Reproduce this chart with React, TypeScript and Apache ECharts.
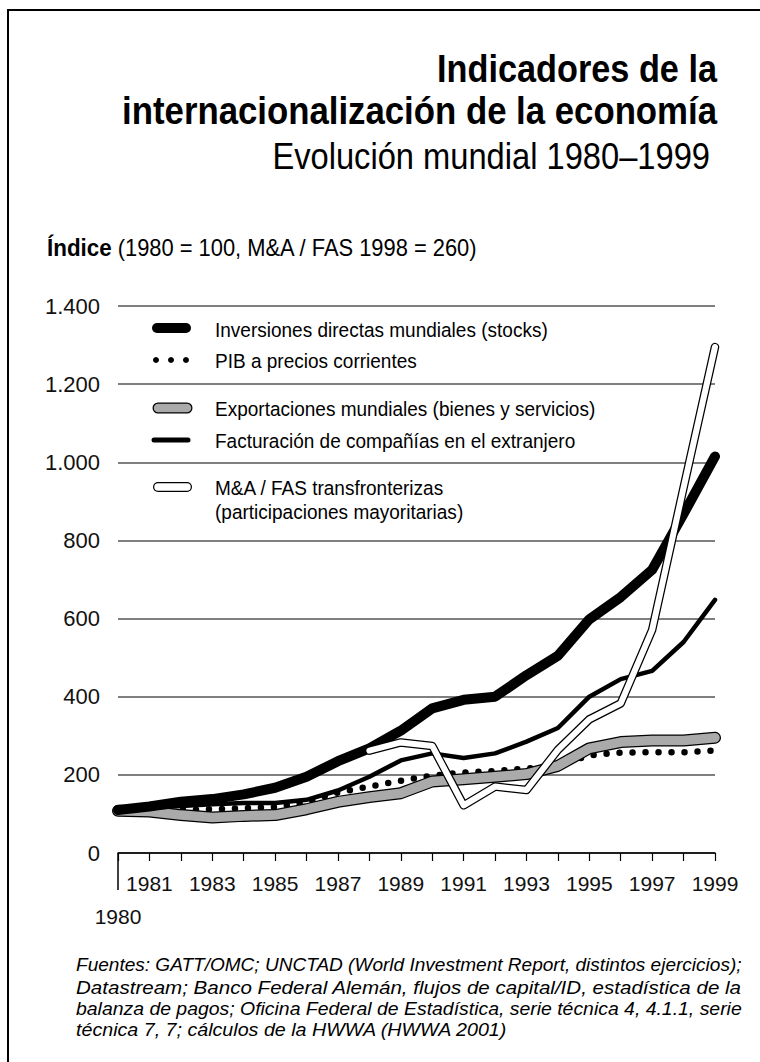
import React, { useEffect, useRef } from "react";
import * as echarts from "echarts";

const years = ["1980","1981","1982","1983","1984","1985","1986","1987","1988","1989","1990","1991","1992","1993","1994","1995","1996","1997","1998","1999"];
const inversiones = [110,119,131,138,150,167,195,235,268,313,370,392,400,455,505,598,655,725,868,1015];
const pib = [110,112,110,112,115,118,130,155,170,185,198,206,210,216,225,250,257,258,258,262];
const exportaciones = [108,106,97,91,95,97,112,131,143,153,183,189,195,202,223,268,284,288,288,295];
const facturacion = [110,115,120,125,128,128,136,160,195,237,255,243,255,285,320,400,445,466,540,648];
const myaFas = [null,null,null,null,null,null,null,null,262,283,274,122,170,161,264,342,383,571,935,1295];

const titleLines = ["Indicadores de la", "internacionalización de la economía"];
const subtitle = "Evolución mundial 1980–1999";
const unitBold = "Índice";
const unitRest = " (1980 = 100, M&A / FAS 1998 = 260)";
const legendLabels = [
  "Inversiones directas mundiales (stocks)",
  "PIB a precios corrientes",
  "Exportaciones mundiales (bienes y servicios)",
  "Facturación de compañías en el extranjero",
  "M&A / FAS transfronterizas",
  "(participaciones mayoritarias)",
];
const footnoteLines = [
  "Fuentes: GATT/OMC; UNCTAD (World Investment Report, distintos ejercicios);",
  "Datastream; Banco Federal Alemán, flujos de capital/ID, estadística de la",
  "balanza de pagos; Oficina Federal de Estadística, serie técnica 4, 4.1.1, serie",
  "técnica 7, 7; cálculos de la HWWA (HWWA 2001)",
];

const FAM = "'Liberation Sans', Arial, sans-serif";

function measure(text: string, font: string): number {
  const c = document.createElement("canvas");
  const ctx = c.getContext("2d")!;
  ctx.font = font;
  return ctx.measureText(text).width;
}

export default function App() {
  const ref = useRef<HTMLDivElement>(null);
  useEffect(() => {
    if (!ref.current) return;
    const chart = echarts.init(ref.current, null, { renderer: "svg" });
    const GL = 118, GR = 715, GT = 306, GB = 853;
    const lineBase = { type: "line", symbol: "none", silent: true, connectNulls: false } as any;

    const fTitle = `bold 38px ${FAM}`;
    const fSub = `37px ${FAM}`;
    const fUnitB = `bold 23.5px ${FAM}`;
    const fUnitN = `23px ${FAM}`;
    const fLeg = `19.5px ${FAM}`;
    const fFoot = `italic 18.5px ${FAM}`;

    const sT1 = 280 / measure(titleLines[0], fTitle);
    const sT2 = 595 / measure(titleLines[1], fTitle);
    const sSub = 438 / measure(subtitle, fSub);
    const sUnit = 431 / (measure(unitBold, fUnitB) + measure(unitRest, fUnitN));
    const sLeg = 333 / measure(legendLabels[0], fLeg);
    const footScales = footnoteLines.slice(0, 3).map((t) => 666 / measure(t, fFoot));
    const footAvg = footScales.reduce((a, b) => a + b, 0) / footScales.length;

    const legendX = 215;
    const legendY = [328, 360, 408, 440, 487];
    const legendTextY = [330, 361, 409, 441, 488, 512];

    const graphics: any[] = [
      { type: "rect", shape: { x: 8, y: 10, width: 800, height: 1100 }, style: { fill: "none", stroke: "#000", lineWidth: 2 }, z: 0 },
      { type: "text", x: 717, y: 69, scaleX: sT1, style: { text: titleLines[0], font: fTitle, fill: "#000", align: "right", verticalAlign: "middle" } },
      { type: "text", x: 717, y: 111, scaleX: sT2, style: { text: titleLines[1], font: fTitle, fill: "#000", align: "right", verticalAlign: "middle" } },
      { type: "text", x: 710, y: 156, scaleX: sSub, style: { text: subtitle, font: fSub, fill: "#000", align: "right", verticalAlign: "middle" } },
      {
        type: "text", x: 47, y: 248, scaleX: sUnit,
        style: {
          rich: { b: { font: fUnitB, fill: "#000" }, n: { font: fUnitN, fill: "#000" } },
          text: `{b|${unitBold}}{n|${unitRest}}`, align: "left", verticalAlign: "middle",
        },
      },
      { type: "line", shape: { x1: GL, y1: GB, x2: GL, y2: 890 }, style: { stroke: "#000", lineWidth: 1.5 } },
      // legend icons
      { type: "line", shape: { x1: 157, y1: legendY[0], x2: 186, y2: legendY[0] }, style: { stroke: "#000", lineWidth: 10, lineCap: "round" } },
      { type: "circle", shape: { cx: 156, cy: legendY[1], r: 3 }, style: { fill: "#000" } },
      { type: "circle", shape: { cx: 171, cy: legendY[1], r: 3 }, style: { fill: "#000" } },
      { type: "circle", shape: { cx: 186, cy: legendY[1], r: 3 }, style: { fill: "#000" } },
      { type: "line", shape: { x1: 158, y1: legendY[2], x2: 187, y2: legendY[2] }, style: { stroke: "#000", lineWidth: 11, lineCap: "round" } },
      { type: "line", shape: { x1: 158, y1: legendY[2], x2: 187, y2: legendY[2] }, style: { stroke: "#aaa", lineWidth: 8.5, lineCap: "round" } },
      { type: "line", shape: { x1: 154, y1: legendY[3], x2: 188, y2: legendY[3] }, style: { stroke: "#000", lineWidth: 5, lineCap: "round" } },
      { type: "line", shape: { x1: 158, y1: legendY[4], x2: 187, y2: legendY[4] }, style: { stroke: "#000", lineWidth: 10, lineCap: "round" } },
      { type: "line", shape: { x1: 158, y1: legendY[4], x2: 187, y2: legendY[4] }, style: { stroke: "#fff", lineWidth: 7.5, lineCap: "round" } },
    ];
    legendLabels.forEach((t, i) => {
      graphics.push({ type: "text", x: legendX, y: legendTextY[i], scaleX: sLeg, style: { text: t, font: fLeg, fill: "#000", align: "left", verticalAlign: "middle" } });
    });
    const footY = [965, 987, 1008.5, 1030];
    footnoteLines.forEach((t, i) => {
      graphics.push({ type: "text", x: 76, y: footY[i], scaleX: i < 3 ? footScales[i] : footAvg, style: { text: t, font: fFoot, fill: "#000", align: "left", verticalAlign: "middle" } });
    });

    chart.setOption({
      animation: false,
      backgroundColor: "#fff",
      grid: { left: GL, right: 760 - GR, top: GT, bottom: 1062 - GB, containLabel: false },
      xAxis: {
        type: "category",
        data: years,
        boundaryGap: false,
        axisLine: { show: true, lineStyle: { color: "#000", width: 1.5 } },
        axisTick: { show: true, length: 8, interval: 0, lineStyle: { color: "#000", width: 1.2 } },
        axisLabel: {
          interval: 0,
          margin: 14,
          fontFamily: FAM,
          fontSize: 21,
          color: "#111",
          lineHeight: 33,
          formatter: (v: string, i: number) => (i === 0 ? "\n" + v : (Number(v) % 2 === 1 ? v : "")),
        },
        splitLine: { show: false },
      },
      yAxis: {
        type: "value",
        min: 0,
        max: 1400,
        interval: 200,
        axisLine: { show: false },
        axisTick: { show: false },
        axisLabel: {
          margin: 18,
          fontFamily: FAM,
          fontSize: 22,
          color: "#111",
          formatter: (v: number) => (v >= 1000 ? Math.floor(v / 1000) + "." + String(v % 1000).padStart(3, "0") : String(v)),
        },
        splitLine: { show: true, lineStyle: { color: "#555", width: 1.5 } },
      },
      series: [
        { ...lineBase, name: "PIB", data: pib, z: 2, lineStyle: { color: "#000", width: 6.5, type: [0, 13], cap: "round" } },
        { ...lineBase, name: "Exp-o", data: exportaciones, z: 3, lineStyle: { color: "#000", width: 12, cap: "round", join: "round" } },
        { ...lineBase, name: "Exportaciones", data: exportaciones, z: 4, lineStyle: { color: "#aaa", width: 9.5, cap: "round", join: "round" } },
        { ...lineBase, name: "Facturación", data: facturacion, z: 5, lineStyle: { color: "#000", width: 4.5, cap: "round", join: "round" } },
        { ...lineBase, name: "Inversiones", data: inversiones, z: 6, lineStyle: { color: "#000", width: 10, cap: "round", join: "round" } },
        { ...lineBase, name: "MyA-o", data: myaFas, z: 7, lineStyle: { color: "#000", width: 8.5, cap: "round", join: "round" } },
        { ...lineBase, name: "M&A / FAS", data: myaFas, z: 8, lineStyle: { color: "#fff", width: 6, cap: "round", join: "round" } },
      ],
      graphic: graphics,
    });
    return () => chart.dispose();
  }, []);
  return <div ref={ref} style={{ position: "fixed", left: 0, top: 0, width: 760, height: 1062 }} />;
}
